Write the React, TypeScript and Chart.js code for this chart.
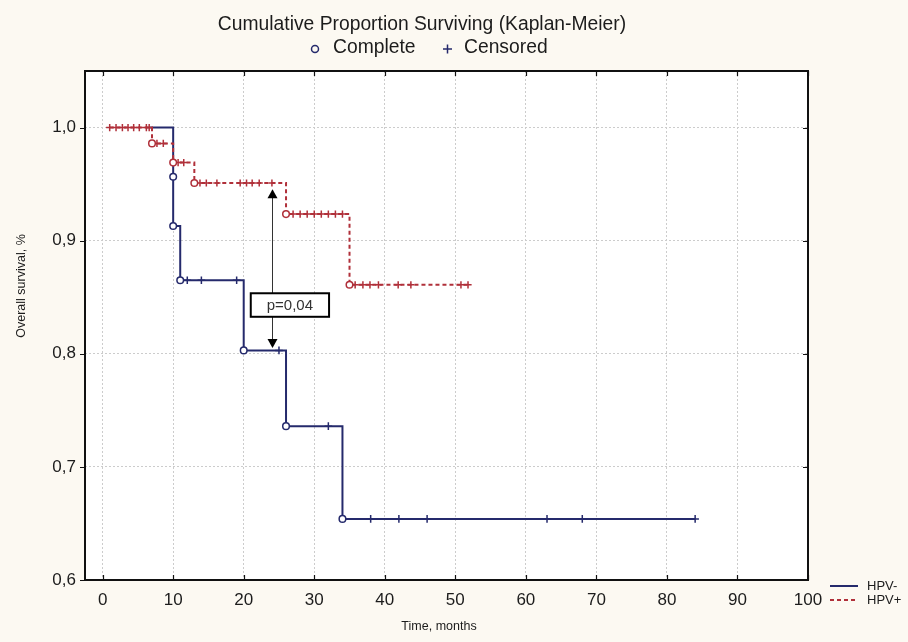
import React, { useEffect, useRef } from 'react';
import { Chart, registerables } from 'chart.js';

Chart.register(...registerables);

const W = 908;
const H = 642;

// ---- axis ticks ----
const xTicks = [0, 10, 20, 30, 40, 50, 60, 70, 80, 90, 100];
const yTicks = [0.6, 0.7, 0.8, 0.9, 1.0];
const xMin = -2.5;
const xMax = 100;
const yMin = 0.6;
const yMax = 1.05;

// ---- HPV- (solid navy) ----
const negLineT = [6.6, 10, 10, 11, 20, 26, 34, 84];
const negLineS = [1.0, 0.9565, 0.913, 0.865, 0.803, 0.736, 0.654, 0.654];
const negEventT = [10, 10, 11, 20, 26, 34];
const negEventS = [0.9565, 0.913, 0.865, 0.803, 0.736, 0.654];
const negCensT = [12, 14, 19, 25, 32, 38, 42, 46, 63, 68, 84];
const negCensS = [0.865, 0.865, 0.865, 0.803, 0.736, 0.654, 0.654, 0.654, 0.654, 0.654, 0.654];

// ---- HPV+ (dashed red) ----
const posLineT = [1, 7, 10, 13, 26, 35, 52];
const posLineS = [1.0, 0.986, 0.969, 0.951, 0.9235, 0.861, 0.861];
const posEventT = [7, 10, 13, 26, 35];
const posEventS = [0.986, 0.969, 0.951, 0.9235, 0.861];
const posCensT = [
  1, 1.9, 2.8, 3.6, 4.4, 5.2, 6.2, 6.6,
  7.7, 8.6,
  10.7, 11.5,
  13.8, 14.7, 16.2, 19.5, 20.4, 21.2, 22.2, 24,
  27, 28, 29, 30, 31, 32, 33, 34,
  35.8, 36.9, 37.9, 39.1, 41.9, 43.7, 50.8, 51.8,
];
const posCensS = [
  1.0, 1.0, 1.0, 1.0, 1.0, 1.0, 1.0, 1.0,
  0.986, 0.986,
  0.969, 0.969,
  0.951, 0.951, 0.951, 0.951, 0.951, 0.951, 0.951, 0.951,
  0.9235, 0.9235, 0.9235, 0.9235, 0.9235, 0.9235, 0.9235, 0.9235,
  0.861, 0.861, 0.861, 0.861, 0.861, 0.861, 0.861, 0.861,
];

// ---- texts ----
const titleText = 'Cumulative Proportion Surviving (Kaplan-Meier)';
const legendComplete = 'Complete';
const legendCensored = 'Censored';
const xTitle = 'Time, months';
const yTitle = 'Overall survival, %';
const seriesNames = ['HPV-', 'HPV+'];
const pValueText = 'p=0,04';

// ---- annotation (data units) ----
const arrowX = 24;
const arrowTopY = 0.9455;
const arrowBottomY = 0.805;
const boxX0 = 21;
const boxX1 = 32.1;
const boxY0 = 0.8535;
const boxY1 = 0.8327;

const NAVY = '#252a6c';
const RED = '#b0303a';
const BG = '#fcf9f2';
const FONT = '"Liberation Sans", Arial, sans-serif';
const TXT = '#1c1c1c';

const pts = (t: number[], s: number[]) => t.map((x, i) => ({ x, y: s[i] }));

const decor = {
  id: 'decor',
  beforeDraw(chart: any) {
    const { ctx, chartArea: a } = chart;
    ctx.save();
    ctx.fillStyle = BG;
    ctx.fillRect(0, 0, chart.width, chart.height);
    ctx.fillStyle = '#ffffff';
    ctx.fillRect(a.left, a.top, a.right - a.left, a.bottom - a.top);
    ctx.restore();
  },
  afterDraw(chart: any) {
    const { ctx, chartArea: a, scales } = chart;
    const xs = scales.x;
    const ys = scales.y;
    ctx.save();
    // frame
    ctx.strokeStyle = '#111';
    ctx.lineWidth = 2;
    ctx.setLineDash([]);
    ctx.strokeRect(a.left, a.top, a.right - a.left, a.bottom - a.top);
    // ticks
    ctx.lineWidth = 1.2;
    ctx.beginPath();
    xTicks.forEach((v) => {
      const px = Math.round(xs.getPixelForValue(v)) + 0.5;
      ctx.moveTo(px, a.bottom);
      ctx.lineTo(px, a.bottom - 5);
      ctx.moveTo(px, a.top);
      ctx.lineTo(px, a.top + 5);
    });
    yTicks.forEach((v) => {
      const py = Math.round(ys.getPixelForValue(v)) + 0.5;
      ctx.moveTo(a.left, py);
      ctx.lineTo(a.left - 5, py);
      ctx.moveTo(a.right, py);
      ctx.lineTo(a.right - 5, py);
    });
    ctx.stroke();

    // p-value arrow
    const ax = Math.round(xs.getPixelForValue(arrowX)) + 0.5;
    const aTop = ys.getPixelForValue(arrowTopY);
    const aBot = ys.getPixelForValue(arrowBottomY);
    ctx.strokeStyle = '#333';
    ctx.lineWidth = 1;
    ctx.beginPath();
    ctx.moveTo(ax, aTop + 6);
    ctx.lineTo(ax, aBot - 6);
    ctx.stroke();
    ctx.fillStyle = '#000';
    ctx.beginPath();
    ctx.moveTo(ax, aTop);
    ctx.lineTo(ax - 5, aTop + 9);
    ctx.lineTo(ax + 5, aTop + 9);
    ctx.closePath();
    ctx.fill();
    ctx.beginPath();
    ctx.moveTo(ax, aBot);
    ctx.lineTo(ax - 5, aBot - 9);
    ctx.lineTo(ax + 5, aBot - 9);
    ctx.closePath();
    ctx.fill();
    // box
    const bx0 = xs.getPixelForValue(boxX0);
    const bx1 = xs.getPixelForValue(boxX1);
    const by0 = ys.getPixelForValue(boxY0);
    const by1 = ys.getPixelForValue(boxY1);
    ctx.fillStyle = '#fff';
    ctx.fillRect(bx0, by0, bx1 - bx0, by1 - by0);
    ctx.strokeStyle = '#000';
    ctx.lineWidth = 2;
    ctx.strokeRect(bx0, by0, bx1 - bx0, by1 - by0);
    ctx.fillStyle = '#333';
    ctx.font = `15px ${FONT}`;
    ctx.textAlign = 'center';
    ctx.textBaseline = 'middle';
    ctx.fillText(pValueText, (bx0 + bx1) / 2, (by0 + by1) / 2 + 1);

    // title
    ctx.fillStyle = TXT;
    ctx.font = `19.3px ${FONT}`;
    ctx.textAlign = 'center';
    ctx.textBaseline = 'middle';
    ctx.fillText(titleText, 422, 25);
    // legend row
    ctx.textAlign = 'left';
    ctx.fillText(legendComplete, 333, 48);
    ctx.fillText(legendCensored, 464, 48);
    ctx.strokeStyle = NAVY;
    ctx.lineWidth = 1.5;
    ctx.beginPath();
    ctx.arc(315, 49, 3.5, 0, Math.PI * 2);
    ctx.stroke();
    ctx.beginPath();
    ctx.moveTo(443, 49);
    ctx.lineTo(452, 49);
    ctx.moveTo(447.5, 44.5);
    ctx.lineTo(447.5, 53.5);
    ctx.stroke();

    // axis titles
    ctx.fillStyle = TXT;
    ctx.font = `12.5px ${FONT}`;
    ctx.textAlign = 'center';
    ctx.fillText(xTitle, 439, 627);
    ctx.save();
    ctx.translate(22, 286);
    ctx.rotate(-Math.PI / 2);
    ctx.fillText(yTitle, 0, 0);
    ctx.restore();

    // series legend
    ctx.lineWidth = 2;
    ctx.strokeStyle = NAVY;
    ctx.beginPath();
    ctx.moveTo(830, 586);
    ctx.lineTo(858, 586);
    ctx.stroke();
    ctx.strokeStyle = RED;
    ctx.setLineDash([4, 3]);
    ctx.beginPath();
    ctx.moveTo(830, 600);
    ctx.lineTo(858, 600);
    ctx.stroke();
    ctx.setLineDash([]);
    ctx.fillStyle = TXT;
    ctx.font = `13px ${FONT}`;
    ctx.textAlign = 'left';
    ctx.fillText(seriesNames[0], 867, 586);
    ctx.fillText(seriesNames[1], 867, 600);
    ctx.restore();
  },
};

export default function App() {
  const ref = useRef<HTMLCanvasElement>(null);
  useEffect(() => {
    if (!ref.current) return;
    const chart = new Chart(ref.current, {
      type: 'scatter',
      data: {
        datasets: [
          {
            label: 'HPV- complete',
            data: pts(negEventT, negEventS),
            pointStyle: 'circle',
            pointRadius: 3.3,
            pointBorderWidth: 1.5,
            pointBorderColor: NAVY,
            pointBackgroundColor: '#ffffff',
            showLine: false,
            order: 0,
          },
          {
            label: 'HPV+ complete',
            data: pts(posEventT, posEventS),
            pointStyle: 'circle',
            pointRadius: 3.3,
            pointBorderWidth: 1.5,
            pointBorderColor: RED,
            pointBackgroundColor: '#ffffff',
            showLine: false,
            order: 0,
          },
          {
            label: 'HPV+ censored',
            data: pts(posCensT, posCensS),
            pointStyle: 'cross',
            pointRadius: 3.6,
            pointBorderWidth: 1.5,
            pointBorderColor: RED,
            showLine: false,
            order: 1,
          },
          {
            label: 'HPV- censored',
            data: pts(negCensT, negCensS),
            pointStyle: 'cross',
            pointRadius: 3.8,
            pointBorderWidth: 1.5,
            pointBorderColor: NAVY,
            showLine: false,
            order: 2,
          },
          {
            label: seriesNames[1],
            data: pts(posLineT, posLineS),
            showLine: true,
            stepped: 'before',
            borderColor: RED,
            borderWidth: 2,
            borderDash: [4, 3],
            pointRadius: 0,
            fill: false,
            order: 3,
          },
          {
            label: seriesNames[0],
            data: pts(negLineT, negLineS),
            showLine: true,
            stepped: 'before',
            borderColor: NAVY,
            borderWidth: 2,
            pointRadius: 0,
            fill: false,
            order: 4,
          },
        ],
      },
      options: {
        animation: false,
        responsive: false,
        events: [],
        layout: { padding: { left: 0, top: 71, right: 100, bottom: 0 } },
        plugins: {
          legend: { display: false },
          title: { display: false },
          tooltip: { enabled: false },
        },
        scales: {
          x: {
            type: 'linear',
            min: xMin,
            max: xMax,
            afterFit: (s: any) => {
              s.height = 62;
            },
            afterBuildTicks: (s: any) => {
              s.ticks = xTicks.map((v) => ({ value: v }));
            },
            grid: { color: '#cccccc', lineWidth: 1, drawTicks: false },
            border: { display: false, dash: [2, 2] },
            ticks: {
              padding: 10,
              color: TXT,
              font: { family: FONT, size: 17 },
              maxRotation: 0,
              callback: (v: any) => String(v),
            },
          },
          y: {
            type: 'linear',
            min: yMin,
            max: yMax,
            afterFit: (s: any) => {
              s.width = 85;
            },
            afterBuildTicks: (s: any) => {
              s.ticks = yTicks.map((v) => ({ value: v }));
            },
            grid: { color: '#cccccc', lineWidth: 1, drawTicks: false },
            border: { display: false, dash: [2, 2] },
            ticks: {
              padding: 9,
              color: TXT,
              font: { family: FONT, size: 17 },
              callback: (v: any) => Number(v).toFixed(1).replace('.', ','),
            },
          },
        },
      },
      plugins: [decor],
    } as any);
    return () => chart.destroy();
  }, []);
  return (
    <div style={{ position: 'absolute', left: 0, top: 0, width: W, height: H }}>
      <canvas ref={ref} width={W} height={H} style={{ display: 'block', width: W, height: H }} />
    </div>
  );
}
